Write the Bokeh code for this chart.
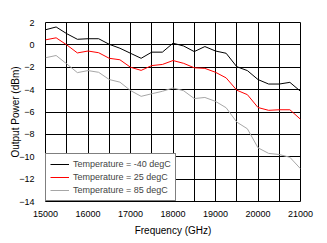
from bokeh.plotting import figure
from bokeh.models import FixedTicker, Range1d, Legend, LegendItem
from bokeh.embed import file_html
from bokeh.resources import INLINE

freq = [15000, 15250, 15500, 15750, 16000, 16250, 16500, 16750, 17000, 17250,
        17500, 17750, 18000, 18250, 18500, 18750, 19000, 19250, 19500, 19750,
        20000, 20250, 20500, 20750, 21000]
t_m40 = [1.35, 1.6, 1.0, 0.5, 0.55, 0.55, 0.05, -0.3, -0.75, -1.2,
         -0.65, -0.65, 0.15, -0.1, -0.6, -0.15, -0.55, -0.75, -1.95, -2.3,
         -3.1, -3.5, -3.5, -3.35, -4.15]
t_25 = [0.45, 0.63, 0.0, -0.72, -0.55, -0.7, -1.2, -1.33, -2.0, -2.28,
        -1.85, -1.75, -1.4, -1.65, -2.05, -2.1, -2.45, -2.95, -4.05, -4.45,
        -5.6, -5.85, -5.8, -5.8, -6.65]
t_85 = [-1.15, -0.95, -1.7, -2.48, -2.3, -2.45, -3.1, -3.33, -4.08, -4.6,
        -4.37, -4.15, -3.85, -4.1, -4.8, -4.7, -5.05, -5.62, -6.9, -7.5,
        -9.2, -9.7, -9.8, -10.05, -11.07]
labels = ["Temperature = -40 degC", "Temperature = 25 degC", "Temperature = 85 degC"]
x_ticks = [15000, 16000, 17000, 18000, 19000, 20000, 21000]
x_grid = list(range(15000, 21001, 500))
y_ticks = [2, 0, -2, -4, -6, -8, -10, -12, -14]

FONT = "Liberation Sans"

p = figure(width=327, height=243, output_backend="svg", toolbar_location=None,
           x_range=Range1d(15000, 21000), y_range=Range1d(-14, 2),
           min_border_left=45, min_border_right=27, min_border_top=22,
           min_border_bottom=42)
p.background_fill_color = "white"
p.border_fill_color = "white"
p.outline_line_color = "black"
p.outline_line_width = 1

p.xaxis.ticker = FixedTicker(ticks=x_ticks)
p.yaxis.ticker = FixedTicker(ticks=y_ticks)
p.xgrid.ticker = FixedTicker(ticks=x_grid)
p.ygrid.ticker = FixedTicker(ticks=y_ticks)
for g in (p.xgrid, p.ygrid):
    g.grid_line_color = "black"
    g.grid_line_width = 1
    g.grid_line_alpha = 1.0

for ax in (p.xaxis, p.yaxis):
    ax.axis_line_color = None
    ax.major_tick_line_color = None
    ax.minor_tick_line_color = None
    ax.major_label_text_font = FONT
    ax.major_label_text_font_size = "9px"
    ax.major_label_text_color = "black"
    ax.axis_label_text_font = FONT
    ax.axis_label_text_font_size = "10px"
    ax.axis_label_text_font_style = "normal"
    ax.axis_label_text_color = "black"

p.xaxis.axis_label = "Frequency (GHz)"
p.yaxis.axis_label = "Output Power (dBm)"
p.xaxis.major_label_standoff = 3
p.yaxis.major_label_standoff = 5
p.xaxis.axis_label_standoff = 5
p.yaxis.axis_label_standoff = -5

r1 = p.line(freq, t_m40, line_color="black", line_width=1)
r2 = p.line(freq, t_25, line_color="#FF0000", line_width=1)
r3 = p.line(freq, t_85, line_color="#A6A6A6", line_width=1)

legend = Legend(items=[LegendItem(label=labels[0], renderers=[r1]),
                       LegendItem(label=labels[1], renderers=[r2]),
                       LegendItem(label=labels[2], renderers=[r3])],
                location=(0, 0), margin=0, padding=4, spacing=1,
                glyph_width=19, glyph_height=12, label_height=12,
                label_standoff=4, label_text_font=FONT,
                label_text_font_size="9px", border_line_color="black",
                border_line_width=1, background_fill_color="white",
                background_fill_alpha=1.0)
p.add_layout(legend, "center")

open("out.html", "w").write(file_html(p, INLINE))
